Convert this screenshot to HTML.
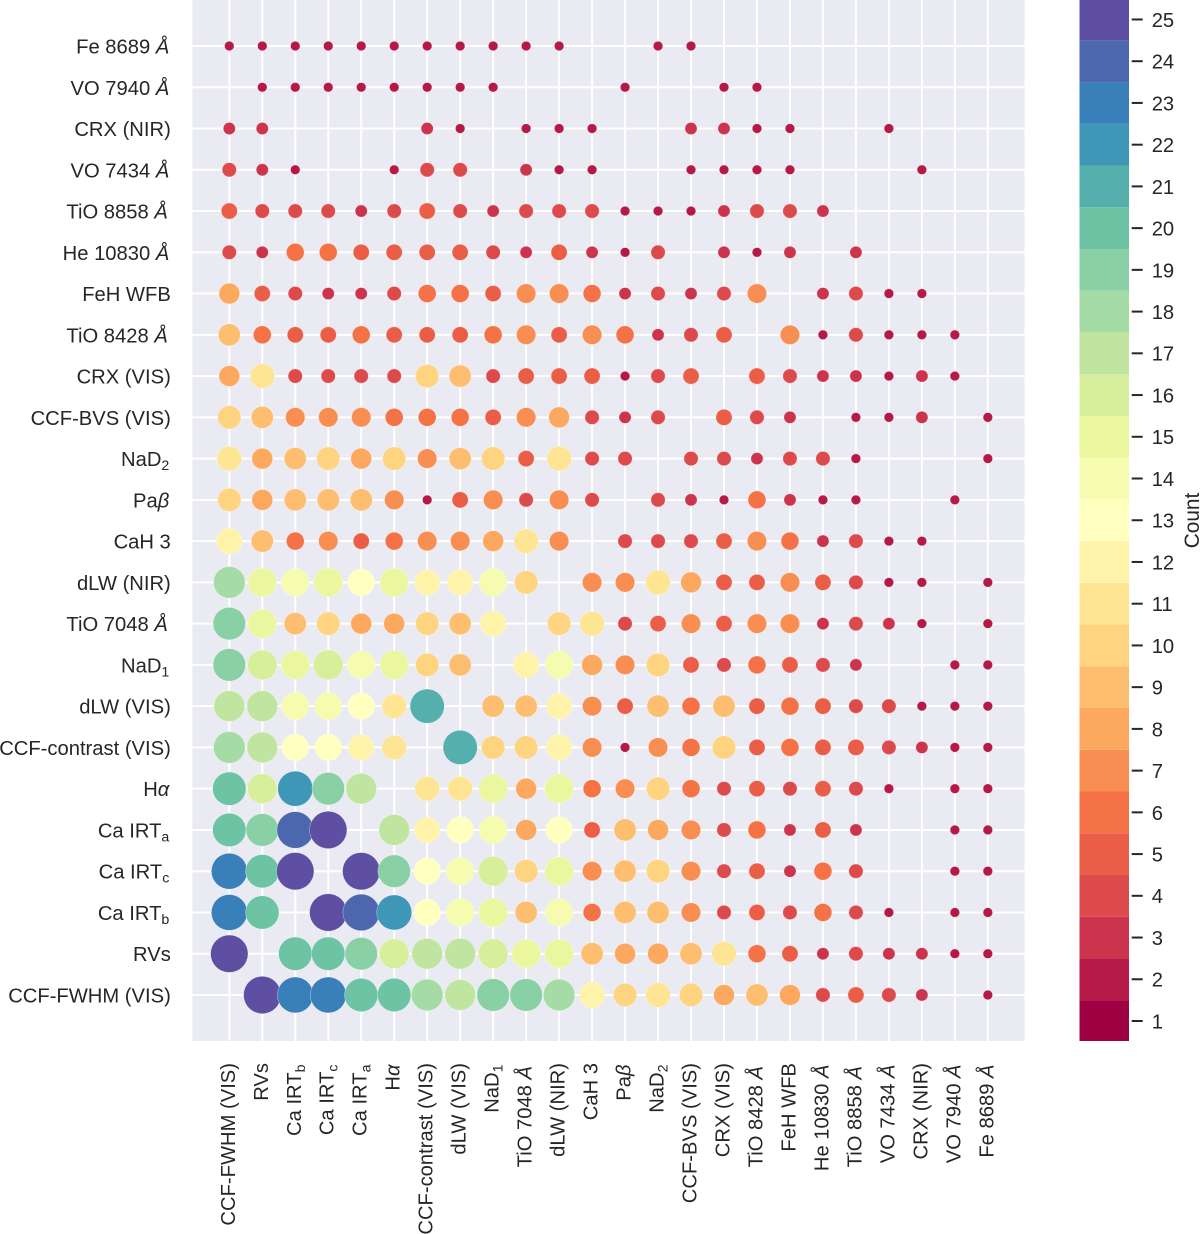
<!DOCTYPE html>
<html lang="en">
<head>
<meta charset="utf-8">
<title>Count matrix bubble chart</title>
<style>
html,body{margin:0;padding:0;background:#fff;}
svg{display:block;}
text{font-family:"Liberation Sans",sans-serif;fill:#262626;}
</style>
</head>
<body>
<svg id="chart" xmlns="http://www.w3.org/2000/svg" width="1200" height="1234" viewBox="0 0 1200 1234">
  <rect x="192.5" y="0" width="832" height="1041" fill="#eaeaf2"></rect>
  <g id="grid"></g>
  <g id="marks"></g>
  <g id="ylabels"></g>
  <g id="xlabels"></g>
  <g id="colorbar"></g>
  <text transform="translate(1199,520.5) rotate(-90)" text-anchor="middle" font-size="20.8">Count</text>
</svg>
<script>
// Axis categories (shared order; rows are listed top to bottom, columns left to right)
const colLabels = ["CCF-FWHM (VIS)","RVs","Ca IRT_b","Ca IRT_c","Ca IRT_a","H*α*","CCF-contrast (VIS)","dLW (VIS)","NaD_1","TiO 7048 *Å*","dLW (NIR)","CaH 3","Pa*β*","NaD_2","CCF-BVS (VIS)","CRX (VIS)","TiO 8428 *Å*","FeH WFB","He 10830 *Å*","TiO 8858 *Å*","VO 7434 *Å*","CRX (NIR)","VO 7940 *Å*","Fe 8689 *Å*"];
const rowLabels = ["Fe 8689 *Å*","VO 7940 *Å*","CRX (NIR)","VO 7434 *Å*","TiO 8858 *Å*","He 10830 *Å*","FeH WFB","TiO 8428 *Å*","CRX (VIS)","CCF-BVS (VIS)","NaD_2","Pa*β*","CaH 3","dLW (NIR)","TiO 7048 *Å*","NaD_1","dLW (VIS)","CCF-contrast (VIS)","H*α*","Ca IRT_a","Ca IRT_c","Ca IRT_b","RVs","CCF-FWHM (VIS)"];

// Count values per row (0 = no mark)
const rowFe8689   = [2,2,2,2,2,2,2,2,2,2,2,0,0,2,2,0,0,0,0,0,0,0,0,0];
const rowVO7940   = [0,2,2,2,2,2,2,2,2,0,0,0,2,0,0,2,2,0,0,0,0,0,0,0];
const rowCRXNIR   = [3,3,0,0,0,0,3,2,0,2,2,2,0,0,3,3,2,2,0,0,2,0,0,0];
const rowVO7434   = [4,3,2,0,0,2,4,4,0,3,2,2,0,0,2,2,2,2,0,0,0,2,0,0];
const rowTiO8858  = [5,4,4,4,3,4,5,4,3,4,4,4,2,2,2,3,4,4,3,0,0,0,0,0];
const rowHe10830  = [4,3,6,6,5,5,5,5,4,3,5,3,2,4,0,3,2,3,0,3,0,0,0,0];
const rowFeH      = [8,5,4,3,3,4,6,6,5,7,7,6,3,4,3,4,7,0,3,4,2,2,0,0];
const rowTiO8428  = [9,6,5,5,6,5,5,5,6,7,5,7,6,3,4,5,0,7,2,4,2,2,2,0];
const rowCRXVIS   = [8,11,4,4,4,4,10,9,4,5,5,5,2,4,5,0,5,4,3,3,2,3,2,0];
const rowBVS      = [10,9,7,7,7,6,6,6,5,7,8,4,3,4,0,5,4,3,0,2,2,3,0,2];
const rowNaD2     = [11,8,9,10,8,10,7,9,10,5,11,4,4,0,4,4,3,4,4,2,0,0,0,2];
const rowPaB      = [10,8,9,9,9,7,2,5,7,4,7,4,0,4,3,2,6,3,2,2,0,0,2,0];
const rowCaH3     = [12,9,6,7,5,6,7,7,8,11,7,0,4,4,4,5,7,6,3,4,2,2,0,0];
const rowDLWNIR   = [18,15,14,15,13,15,12,12,14,10,0,7,7,11,8,5,5,7,5,4,2,2,0,2];
const rowTiO7048  = [19,15,9,10,8,8,10,9,12,0,10,11,4,5,7,5,7,7,3,4,3,2,0,2];
const rowNaD1     = [19,16,15,16,14,15,10,9,0,12,14,8,7,10,5,4,6,5,4,3,0,0,2,2];
const rowDLWVIS   = [17,17,14,14,13,11,21,0,9,9,12,7,5,9,6,9,5,6,5,4,4,2,2,2];
const rowContrast = [18,17,13,13,12,11,0,21,10,10,12,7,2,7,6,10,5,6,5,5,4,3,2,2];
const rowHalpha   = [20,16,22,19,17,0,11,11,15,8,15,6,7,10,6,4,5,4,5,4,2,0,2,2];
const rowIRTa     = [20,19,24,25,0,17,12,13,14,8,13,5,9,8,7,4,6,3,5,3,0,0,2,2];
const rowIRTc     = [23,20,25,0,25,19,13,14,16,10,15,7,9,10,7,4,5,3,6,4,0,0,2,2];
const rowIRTb     = [23,20,0,25,24,22,13,14,15,9,14,6,9,9,7,4,5,4,6,4,2,0,2,2];
const rowRVs      = [25,0,20,20,19,16,17,17,16,15,15,9,8,8,9,11,6,5,3,4,3,3,2,2];
const rowFWHM     = [0,25,23,23,20,20,18,17,19,19,18,12,10,11,10,8,9,8,4,5,4,3,0,2];
const counts = [rowFe8689,rowVO7940,rowCRXNIR,rowVO7434,rowTiO8858,rowHe10830,rowFeH,rowTiO8428,rowCRXVIS,rowBVS,rowNaD2,rowPaB,rowCaH3,rowDLWNIR,rowTiO7048,rowNaD1,rowDLWVIS,rowContrast,rowHalpha,rowIRTa,rowIRTc,rowIRTb,rowRVs,rowFWHM];

// Colorbar tick labels
const colorbarTicks = [1,2,3,4,5,6,7,8,9,10,11,12,13,14,15,16,17,18,19,20,21,22,23,24,25];

// Spectral_r anchor colours for the colour scale
const spectralAnchors = ["#5e4fa2","#3288bd","#66c2a5","#abdda4","#e6f598","#ffffbf","#fee08b","#fdae61","#f46d43","#d53e4f","#9e0142"].reverse();

const SVGNS = "http://www.w3.org/2000/svg";
const xScale = i => 229.3 + i * 32.98;
const yScale = i => 46 + i * 41.26;
const radiusScale = n => Math.sqrt(57 * n - 22) / 2;
const cbarY = v => 1021 - (v - 1) * 41.73;

function colorScale(n) {
  const t = (n - 1) / 24 * 10;
  const i = Math.min(Math.floor(t), 9);
  const f = t - i;
  const a = spectralAnchors[i], b = spectralAnchors[i + 1];
  const ch = k => {
    const p = parseInt(a.substr(k, 2), 16), q = parseInt(b.substr(k, 2), 16);
    return Math.round(p + (q - p) * f);
  };
  return "rgb(" + ch(1) + "," + ch(3) + "," + ch(5) + ")";
}

function make(tag, attrs, parent) {
  const el = document.createElementNS(SVGNS, tag);
  for (const k in attrs) el.setAttribute(k, attrs[k]);
  parent.appendChild(el);
  return el;
}

// Writes "TiO *Å*" and "NaD_2" notation into a text element
function fillLabel(el, label) {
  const parts = label.split(/(\*[^*]+\*|_.)/).filter(s => s.length);
  for (const p of parts) {
    const span = document.createElementNS(SVGNS, "tspan");
    if (p[0] === "*") {
      span.setAttribute("font-style", "italic");
      span.textContent = p.slice(1, -1);
    } else if (p[0] === "_") {
      span.setAttribute("font-size", "14.2");
      span.setAttribute("dy", "4");
      span.textContent = p.slice(1);
    } else {
      span.textContent = p;
    }
    el.appendChild(span);
  }
}

// Math-style labels sit a little short of the axis alignment edge
function mathPad(label) {
  if (label.indexOf("*") < 0 && label.indexOf("_") < 0) return 0;
  return label.indexOf("TiO") === 0 ? 3 : 1.5;
}

function slug(s) {
  return s.replace(/[*_]/g, "").replace(/[^A-Za-z0-9]+/g, "-").replace(/-+$/, "").toLowerCase();
}

const grid = document.getElementById("grid");
const marks = document.getElementById("marks");
const ylabels = document.getElementById("ylabels");
const xlabels = document.getElementById("xlabels");
const colorbar = document.getElementById("colorbar");

rowLabels.forEach((label, r) => {
  const line = make("line", {x1: 192.5, x2: 1024.5, y1: yScale(r), y2: yScale(r), stroke: "#fff", "stroke-width": 2}, grid);
  
  
  const t = make("text", {x: 170.8 - mathPad(label), y: yScale(r) + 7.5, "text-anchor": "end", "font-size": 20.2}, ylabels);
  
  
  fillLabel(t, label);
});

colLabels.forEach((label, c) => {
  const line = make("line", {x1: xScale(c), x2: xScale(c), y1: 0, y2: 1041, stroke: "#fff", "stroke-width": 2}, grid);
  
  
  const t = make("text", {transform: "translate(" + (xScale(c) + 5.5) + "," + (1063 + mathPad(label)) + ") rotate(-90)", "text-anchor": "end", "font-size": 20.2}, xlabels);
  
  
  fillLabel(t, label);
});

for (let c = 0; c < colLabels.length; c++) {
  for (let r = 0; r < rowLabels.length; r++) {
    const n = counts[r][c];
    if (!n) continue;
    const dot = make("circle", {cx: xScale(c), cy: yScale(r), r: radiusScale(n), fill: colorScale(n), stroke: "#fff", "stroke-width": 0.5, "stroke-opacity": 0.6}, marks);
    
    
  }
}

colorbarTicks.forEach(v => {
  const top = Math.max(0, cbarY(v + 0.5));
  const bottom = Math.min(1041, cbarY(v - 0.5));
  const seg = make("rect", {x: 1079.5, y: top, width: 49.5, height: bottom - top, fill: colorScale(v)}, colorbar);
  
  
  const tick = make("line", {x1: 1131.7, x2: 1142.7, y1: cbarY(v), y2: cbarY(v), stroke: "#262626", "stroke-width": 2}, colorbar);
  
  
  const t = make("text", {x: 1151.7, y: cbarY(v) + 7.4, "font-size": 20.2}, colorbar);
  
  
  t.textContent = String(v);
});
</script>
</body>
</html>
